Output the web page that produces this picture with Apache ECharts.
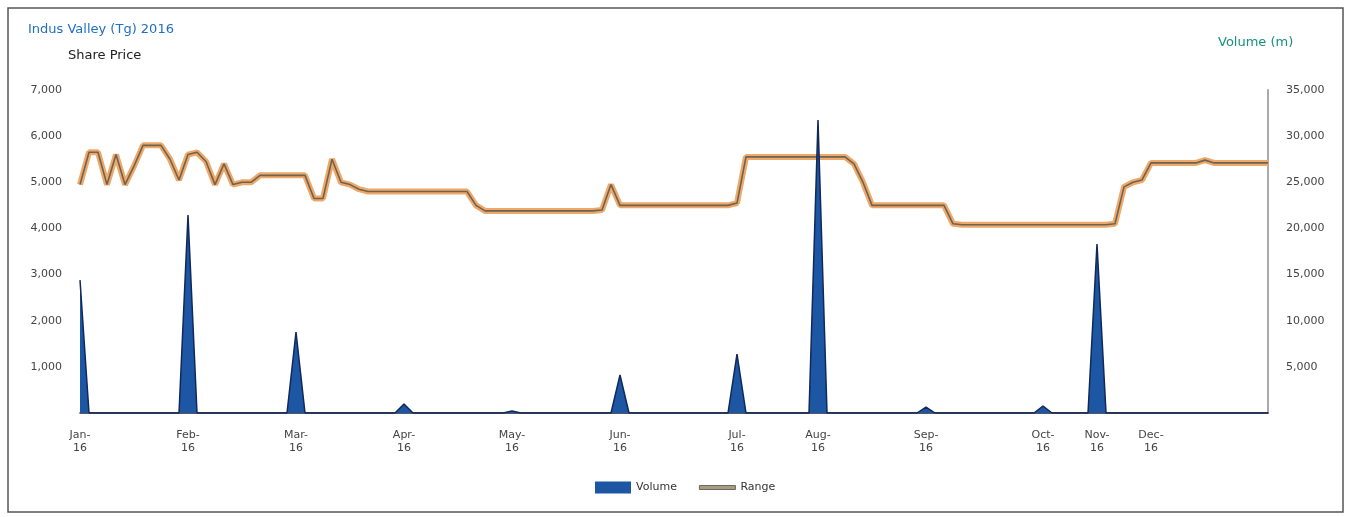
<!DOCTYPE html>
<html><head><meta charset="utf-8">
<script src="https://cdn.jsdelivr.net/npm/echarts@6/dist/echarts.min.js"></script>
<style>html,body{margin:0;padding:0;background:#fff}#c{width:1351px;height:517px}</style>
</head><body><div id="c"></div>
<script>
// Data (one point per ~trading interval; 133 points)
const price = [
 4950,5650,5650,4950,5600,4950,5350,5800,5800,5800,
 5500,5050,5600,5650,5450,4950,5400,4950,5000,5000,
 5150,5150,5150,5150,5150,5150,4650,4650,5500,5000,
 4950,4850,4800,4800,4800,4800,4800,4800,4800,4800,
 4800,4800,4800,4800,4500,4380,4380,4380,4380,4380,
 4380,4380,4380,4380,4380,4380,4380,4380,4400,4950,
 4500,4500,4500,4500,4500,4500,4500,4500,4500,4500,
 4500,4500,4500,4550,5550,5550,5550,5550,5550,5550,
 5550,5550,5550,5550,5550,5550,5400,5000,4500,4500,
 4500,4500,4500,4500,4500,4500,4500,4100,4080,4080,
 4080,4080,4080,4080,4080,4080,4080,4080,4080,4080,
 4080,4080,4080,4080,4080,4100,4900,5000,5050,5420,
 5420,5420,5420,5420,5420,5480,5420,5420,5420,5420,
 5420,5420,5420
];
const volIdx  = [0, 12, 24, 36, 48, 60, 73, 82, 94, 107, 113];
const volVals = [14400, 21450, 8780, 975, 220, 4120, 6390, 31750, 650, 760, 18300];
const labelIdx  = [0, 12, 24, 36, 48, 60, 73, 82, 94, 107, 113, 119];
const labelText = ['Jan-\n16','Feb-\n16','Mar-\n16','Apr-\n16','May-\n16','Jun-\n16','Jul-\n16','Aug-\n16','Sep-\n16','Oct-\n16','Nov-\n16','Dec-\n16'];

const N = price.length;
const cats = [];
for (let i = 0; i < N; i++) cats.push('');
labelIdx.forEach((k, j) => { cats[k] = labelText[j]; });
const volume = [];
for (let i = 0; i < N; i++) volume.push(0);
volIdx.forEach((k, j) => { volume[k] = volVals[j]; });

const FF = 'DejaVu Sans, Verdana, sans-serif';
const chart = echarts.init(document.getElementById('c'));
const fmt = v => v.toLocaleString('en-US');
chart.setOption({
  animation: false,
  textStyle: { fontFamily: FF },
  graphic: [
    { type: 'rect', shape: { x: 8, y: 8, width: 1335, height: 504 }, style: { fill: 'none', stroke: '#555', lineWidth: 1.5 } },
    { type: 'text', left: 28, top: 23, style: { text: 'Indus Valley (Tg) 2016', fill: '#1f6fc0', fontSize: 13, fontFamily: FF } },
    { type: 'text', left: 68, top: 49, style: { text: 'Share Price', fill: '#222', fontSize: 13, fontFamily: FF } },
    { type: 'text', left: 1218, top: 36, style: { text: 'Volume (m)', fill: '#17907e', fontSize: 13, fontFamily: FF } }
  ],
  legend: {
    bottom: 18, left: 590, itemGap: 22, itemWidth: 36, itemHeight: 12,
    textStyle: { fontSize: 11, color: '#333', fontFamily: FF },
    data: [
      { name: 'Volume', icon: 'rect' },
      { name: 'Range', icon: 'path://M0,0 L0.01,0 M0,4 L36,4 L36,8 L0,8 Z M36,12 L35.99,12', itemStyle: { color: '#a39d84', borderColor: '#6e6a55', borderWidth: 1 } }
    ]
  },
  grid: { left: 80, right: 83, top: 90, bottom: 104 },
  xAxis: {
    type: 'category', data: cats, boundaryGap: false,
    axisLine: { lineStyle: { color: '#222', width: 1.5 } },
    axisTick: { show: false },
    axisLabel: { interval: 0, color: '#444', fontSize: 11, lineHeight: 13, margin: 16 }
  },
  yAxis: [
    { type: 'value', min: 0, max: 7000, interval: 1000, position: 'left',
      axisLine: { show: false }, axisTick: { show: false }, splitLine: { show: false },
      axisLabel: { showMinLabel: false, color: '#444', fontSize: 11, margin: 18, formatter: fmt } },
    { type: 'value', min: 0, max: 35000, interval: 5000, position: 'right',
      axisLine: { show: true, lineStyle: { color: '#aaa', width: 2 } }, axisTick: { show: false }, splitLine: { show: false },
      axisLabel: { showMinLabel: false, color: '#444', fontSize: 11, margin: 18, formatter: fmt } }
  ],
  series: [
    { name: 'RangeBand', type: 'line', yAxisIndex: 0, data: price, symbol: 'none',
      lineStyle: { color: '#eea86a', width: 6 }, silent: true, z: 3 },
    { name: 'Range', type: 'line', yAxisIndex: 0, data: price, symbol: 'none',
      itemStyle: { color: '#a39d84' },
      lineStyle: { color: '#6e6250', width: 1.6 }, z: 4 },
    { name: 'Volume', type: 'line', yAxisIndex: 1, data: volume, symbol: 'none',
      itemStyle: { color: '#1d57a3' },
      lineStyle: { color: '#10285a', width: 1.5 },
      areaStyle: { color: '#1d57a3', opacity: 1 }, z: 6 }
  ]
});
</script></body></html>
